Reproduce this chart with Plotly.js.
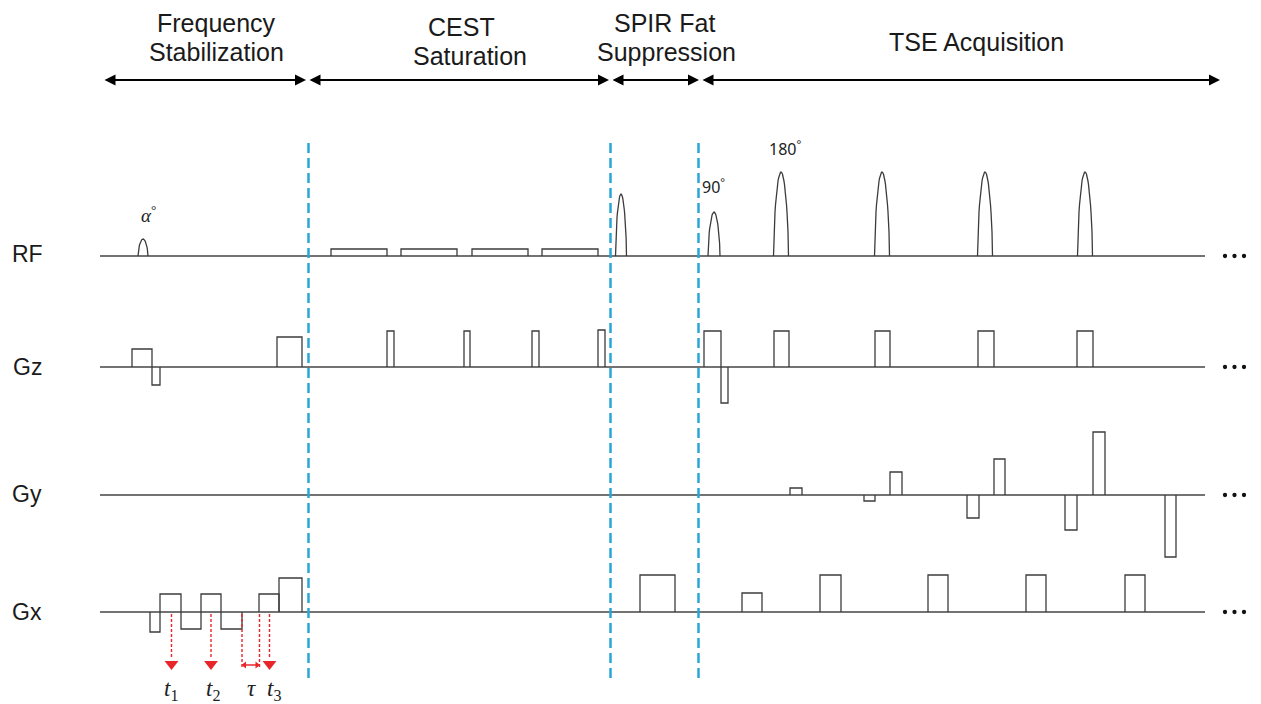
<!DOCTYPE html>
<html>
<head>
<meta charset="utf-8">
<script src="https://cdn.plot.ly/plotly-3.0.1.min.js"></script>
<style>html,body{margin:0;padding:0;background:#fff;}#chart{width:1261px;height:704px;}</style>
</head>
<body>
<div id="chart"></div>
<script>
// ---------- data (time axis in diagram units, amplitudes in diagram units) ----------
const channelNames = ['RF', 'Gz', 'Gy', 'Gx'];
const phaseNames = [['Frequency', 'Stabilization'], ['CEST', 'Saturation'], ['SPIR Fat', 'Suppression'], ['TSE Acquisition']];
const phaseStart = [103, 308, 611, 701];
const phaseEnd = [306, 609, 699, 1220];
const phaseBoundaries = [308.5, 610.5, 698.5];

// RF sinc-like pulses
const rfPulseCenter = [143, 621, 714, 781, 882, 985, 1085];
const rfPulseWidth = [10, 11, 12, 15, 15, 15, 15];
const rfPulseAmp = [17, 62, 44, 84, 84, 84, 84];
const rfPulseLabels = ['<i>α</i><sup>°</sup>', '90<sup>°</sup>', '180<sup>°</sup>'];
// CEST saturation blocks
const cestStart = [331, 401, 472, 542];
const cestEnd = [387, 457, 528, 598];
const cestAmp = [7, 7, 7, 7];

// gradient lobes: start, end, amplitude
const gzStart = [132, 152, 277, 387, 464, 532, 598, 704, 721, 774, 875, 978, 1077];
const gzEnd = [152, 160, 302, 394, 470, 539, 605, 721, 728, 789, 890, 994, 1093];
const gzAmp = [18, -18, 30, 36, 36, 36, 37, 36, -36, 36, 36, 36, 36];

const gyStart = [790, 864, 890, 967, 994, 1065, 1093, 1165];
const gyEnd = [802, 875, 902, 979, 1005, 1077, 1105, 1176];
const gyAmp = [7, -6, 23, -23, 36, -35, 63, -62];

const gxStart = [150, 160, 181, 201, 221, 259, 279, 640, 742, 820, 928, 1026, 1125];
const gxEnd = [160, 181, 201, 221, 242, 279, 302, 675, 762, 841, 948, 1046, 1145];
const gxAmp = [-20, 18, -17, 18, -17, 18, 34, 37, 19, 37, 37, 37, 37];

// sampling times and echo spacing tau
const sampleTimes = [171.5, 211, 269.5];
const sampleLabels = ['<i>t</i><sub>1</sub>', '<i>t</i><sub>2</sub>', '<i>t</i><sub>3</sub>'];
const tauStart = 242, tauEnd = 259.5;
const tauLabel = '<i>τ</i>';

// ---------- layout constants ----------
const baseY = {RF: 256, Gz: 367, Gy: 495, Gx: 612};
const labelY = {RF: 254, Gz: 367, Gy: 494, Gx: 612};
const lineStart = 100, lineEnd = 1205;
const waveColor = '#3c3c3c';
const blue = '#2aa6d6';
const red = '#e8262a';

const traces = [];

// baselines
channelNames.forEach(ch => {
  traces.push({x: [lineStart, lineEnd], y: [baseY[ch], baseY[ch]], mode: 'lines',
    line: {color: '#454545', width: 1.5}, hoverinfo: 'skip'});
});

// continuation dots
channelNames.forEach(ch => {
  traces.push({x: [1225, 1234.5, 1244], y: [baseY[ch], baseY[ch], baseY[ch]], mode: 'markers',
    marker: {symbol: 'circle', size: 4.3, color: '#111'}, hoverinfo: 'skip'});
});

// RF pulses
(function () {
  const xs = [], ys = [];
  const b = baseY.RF;
  rfPulseCenter.forEach((c, i) => {
    const w = rfPulseWidth[i], h = rfPulseAmp[i];
    const n = 30;
    for (let k = 0; k <= n; k++) {
      const u = k / n;
      xs.push(c - w / 2 + u * w);
      ys.push(b - h * Math.pow(Math.sin(Math.PI * u), 0.55));
    }
    xs.push(null); ys.push(null);
  });
  cestStart.forEach((s, i) => {
    xs.push(s, s, cestEnd[i], cestEnd[i], null);
    ys.push(b, b - cestAmp[i], b - cestAmp[i], b, null);
  });
  traces.push({x: xs, y: ys, mode: 'lines', line: {color: waveColor, width: 1.3}, hoverinfo: 'skip'});
})();

function lobes(starts, ends, amps, b) {
  const xs = [], ys = [];
  starts.forEach((s, i) => {
    xs.push(s, s, ends[i], ends[i], null);
    ys.push(b, b - amps[i], b - amps[i], b, null);
  });
  return {x: xs, y: ys, mode: 'lines', line: {color: waveColor, width: 1.3}, hoverinfo: 'skip'};
}
traces.push(lobes(gzStart, gzEnd, gzAmp, baseY.Gz));
traces.push(lobes(gyStart, gyEnd, gyAmp, baseY.Gy));
traces.push(lobes(gxStart, gxEnd, gxAmp, baseY.Gx));

// phase boundaries (dashed blue)
phaseBoundaries.forEach(xb => {
  traces.push({x: [xb, xb], y: [143, 680], mode: 'lines',
    line: {color: blue, width: 2.5, dash: '10px,5px'}, hoverinfo: 'skip'});
});

// red sampling arrows
sampleTimes.forEach(t => {
  traces.push({x: [t, t], y: [614, 658], mode: 'lines',
    line: {color: red, width: 1.4, dash: '3px,2px'}, hoverinfo: 'skip'});
});
traces.push({x: sampleTimes, y: sampleTimes.map(() => 664), mode: 'markers',
  marker: {symbol: 'triangle-down', size: 12, color: red}, hoverinfo: 'skip'});
[tauStart, tauEnd].forEach(t => {
  traces.push({x: [t, t], y: [614, 668], mode: 'lines',
    line: {color: red, width: 1.4, dash: '3px,2px'}, hoverinfo: 'skip'});
});
traces.push({x: [tauStart + 2, tauEnd - 2], y: [665, 665], mode: 'lines',
  line: {color: red, width: 1.5}, hoverinfo: 'skip'});
traces.push({x: [tauStart + 2.5, tauEnd - 2.5], y: [665, 665], mode: 'markers',
  marker: {symbol: ['triangle-left', 'triangle-right'], size: 6, color: red}, hoverinfo: 'skip'});

// ---------- annotations ----------
const ann = [];
const sans = 'Liberation Sans, Arial, sans-serif';
const serif = 'Liberation Serif, DejaVu Serif, serif';

// header arrows and labels
phaseStart.forEach((s, i) => {
  ann.push({x: phaseEnd[i], y: 80, ax: s, ay: 80, xref: 'x', yref: 'y', axref: 'x', ayref: 'y',
    showarrow: true, arrowhead: 2, startarrowhead: 2, arrowside: 'end+start',
    arrowsize: 1, startarrowsize: 1, arrowwidth: 2.2, arrowcolor: '#000', text: '', standoff: 0, startstandoff: 0});
});
const phaseCenterTop = [216.5, 461, 664, 976];
const phaseCenterBottom = [216.5, 470, 666, 976];
phaseNames.forEach((lines, i) => {
  if (lines.length === 2) {
    ann.push({x: phaseCenterTop[i], y: i === 1 ? 27 : 23, text: lines[0], showarrow: false, xanchor: 'center', yanchor: 'middle',
      font: {family: sans, size: 25, color: '#1a1a1a'}});
    ann.push({x: phaseCenterBottom[i], y: i === 1 ? 56 : 52, text: lines[1], showarrow: false, xanchor: 'center', yanchor: 'middle',
      font: {family: sans, size: 25, color: '#1a1a1a'}});
  } else {
    ann.push({x: phaseCenterTop[i], y: 42, text: lines[0], showarrow: false, xanchor: 'center', yanchor: 'middle',
      font: {family: sans, size: 25, color: '#1a1a1a'}});
  }
});

// channel labels
channelNames.forEach(ch => {
  ann.push({x: 27, y: labelY[ch], text: ch, showarrow: false, xanchor: 'center', yanchor: 'middle',
    font: {family: sans, size: 23, color: '#1a1a1a'}});
});

// flip angle labels
ann.push({x: 148, y: 214, text: rfPulseLabels[0], showarrow: false, xanchor: 'center', yanchor: 'middle',
  font: {family: serif, size: 19, color: '#222'}});
ann.push({x: 713, y: 186, text: rfPulseLabels[1], showarrow: false, xanchor: 'center', yanchor: 'middle',
  font: {family: 'Noto Sans, sans-serif', size: 16, color: '#222'}});
ann.push({x: 785, y: 148, text: rfPulseLabels[2], showarrow: false, xanchor: 'center', yanchor: 'middle',
  font: {family: 'Noto Sans, sans-serif', size: 16, color: '#222'}});

// sampling labels
const sampleLabelX = [171, 213, 274];
sampleLabels.forEach((l, i) => {
  ann.push({x: sampleLabelX[i], y: 690, text: l, showarrow: false, xanchor: 'center', yanchor: 'middle',
    font: {family: serif, size: 23, color: '#222'}});
});
ann.push({x: 251, y: 688, text: tauLabel, showarrow: false, xanchor: 'center', yanchor: 'middle',
  font: {family: serif, size: 23, color: '#222'}});

const layout = {
  width: 1261, height: 704,
  margin: {l: 0, r: 0, t: 0, b: 0},
  paper_bgcolor: '#fff', plot_bgcolor: '#fff',
  showlegend: false,
  xaxis: {range: [0, 1261], visible: false, fixedrange: true},
  yaxis: {range: [704, 0], visible: false, fixedrange: true},
  annotations: ann
};

Plotly.newPlot('chart', traces, layout, {displayModeBar: false, staticPlot: true});
</script>
</body>
</html>
